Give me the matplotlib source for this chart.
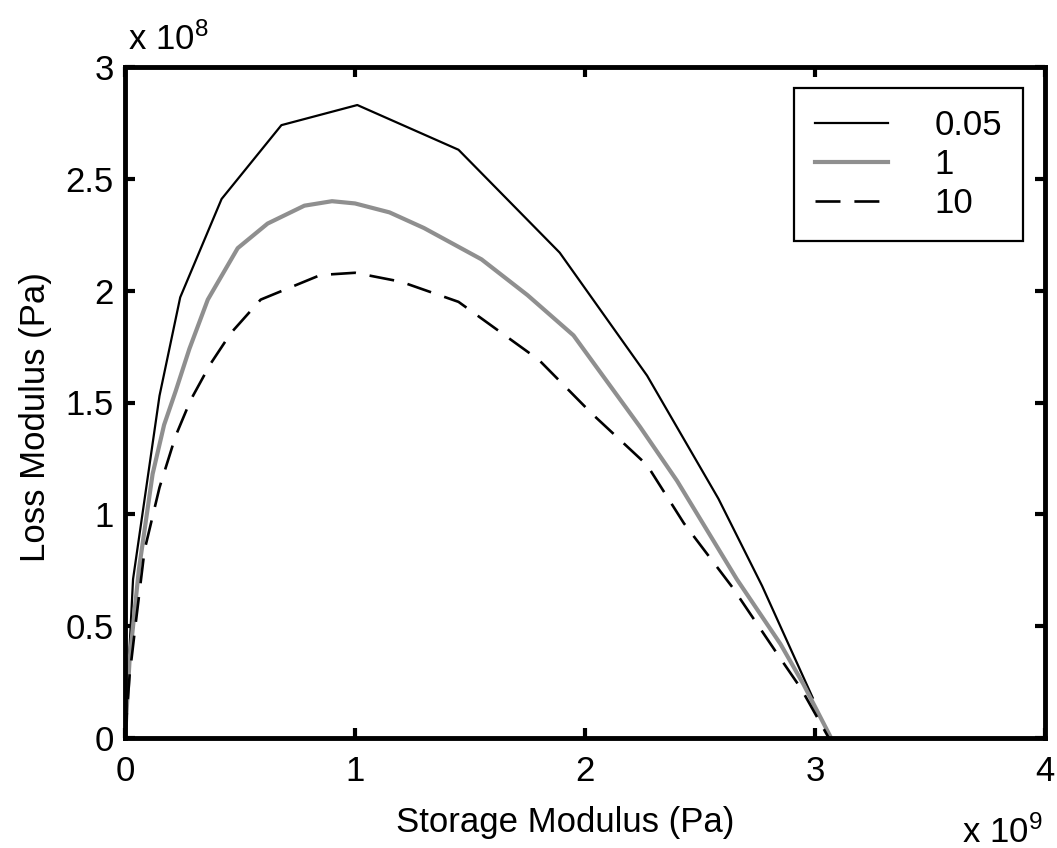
import matplotlib
matplotlib.use("Agg")
import matplotlib.pyplot as plt

# ---- data (storage modulus in 1e9 Pa, loss modulus in 1e8 Pa) ----
series_labels = ["0.05", "1", "10"]

x_005 = [0.0, 0.035, 0.15, 0.24, 0.42, 0.68, 1.01, 1.45, 1.89, 2.27, 2.58, 2.77, 2.99]
y_005 = [0.0, 0.71, 1.53, 1.97, 2.41, 2.74, 2.83, 2.63, 2.17, 1.62, 1.07, 0.68, 0.18]

x_1 = [0.0, 0.02, 0.06, 0.12, 0.17, 0.22, 0.28, 0.36, 0.49, 0.62, 0.78, 0.90, 1.00,
       1.15, 1.30, 1.55, 1.75, 1.95, 2.24, 2.40, 2.53, 2.66, 2.85, 2.95, 3.07]
y_1 = [0.0, 0.35, 0.75, 1.18, 1.40, 1.55, 1.74, 1.96, 2.19, 2.30, 2.38, 2.40, 2.39,
       2.35, 2.28, 2.14, 1.98, 1.80, 1.39, 1.15, 0.93, 0.71, 0.42, 0.24, 0.0]

x_10 = [0.0, 0.02, 0.045, 0.085, 0.15, 0.22, 0.285, 0.37, 0.46, 0.59, 0.85, 1.00,
        1.20, 1.45, 1.80, 2.03, 2.27, 2.43, 2.64, 2.84, 2.94, 3.06]
y_10 = [0.0, 0.28, 0.50, 0.84, 1.12, 1.35, 1.51, 1.67, 1.81, 1.96, 2.07, 2.08,
        2.04, 1.95, 1.69, 1.45, 1.22, 0.96, 0.675, 0.37, 0.22, 0.0]

x_ticks = [0, 1, 2, 3, 4]
y_ticks = [0, 0.5, 1, 1.5, 2, 2.5, 3]
x_tick_labels = ["0", "1", "2", "3", "4"]
y_tick_labels = ["0", "0.5", "1", "1.5", "2", "2.5", "3"]

plt.rcParams["font.family"] = ["Liberation Sans", "DejaVu Sans"]
plt.rcParams["mathtext.fontset"] = "custom"
plt.rcParams["mathtext.rm"] = "Liberation Sans"
plt.rcParams["mathtext.it"] = "Liberation Sans"
plt.rcParams["mathtext.default"] = "regular"
plt.rcParams["lines.scale_dashes"] = False

FS = 25

fig = plt.figure(figsize=(10.57, 8.48), dpi=100)
W, H = 1057, 848
L, R, T, B = 125, 1045, 67, 738
ax = fig.add_axes([L / W, 1 - B / H, (R - L) / W, (B - T) / H])

ax.plot(x_005, y_005, color="black", lw=1.6, label=series_labels[0])
ax.plot(x_1, y_1, color="#8f8f8f", lw=3.0, label=series_labels[1])
ax.plot(x_10, y_10, color="black", lw=1.9, linestyle=(0, (18, 10)), label=series_labels[2])

ax.set_xlim(0, 4)
ax.set_ylim(0, 3)
ax.set_xticks(x_ticks)
ax.set_xticklabels(x_tick_labels)
ax.set_yticks(y_ticks)
ax.set_yticklabels(y_tick_labels)

for s in ax.spines.values():
    s.set_linewidth(3.5)
ax.tick_params(direction="in", length=7, width=3, top=True, right=True,
               labelsize=FS)
ax.tick_params(axis="x", pad=12)
ax.tick_params(axis="y", pad=8)

ax.set_xlabel("Storage Modulus (Pa)", fontsize=FS)
ax.set_ylabel("Loss Modulus (Pa)", fontsize=FS)
ax.xaxis.set_label_coords((565 - L) / (R - L), -(806 - B) / (B - T))
ax.yaxis.set_label_coords(-(L - 52) / (R - L), (B - 417) / (B - T))

fig.text(128 / W, 1 - 50 / H, r"x 10$^{8}$", fontsize=FS, ha="left", va="baseline")
fig.text(1042 / W, 1 - 843 / H, r"x 10$^{9}$", fontsize=FS, ha="right", va="baseline")

leg = ax.legend(loc="upper right", bbox_to_anchor=(1023 / W, 1 - 88 / H),
                bbox_transform=fig.transFigure, fontsize=FS, frameon=True,
                fancybox=False, shadow=False, borderaxespad=0,
                handlelength=2.1, handletextpad=1.35, labelspacing=0.18,
                borderpad=0.6)
leg.get_frame().set_edgecolor("black")
leg.get_frame().set_linewidth(1.6)
leg.get_frame().set_alpha(1)

fig.savefig("out.png", dpi=100)
